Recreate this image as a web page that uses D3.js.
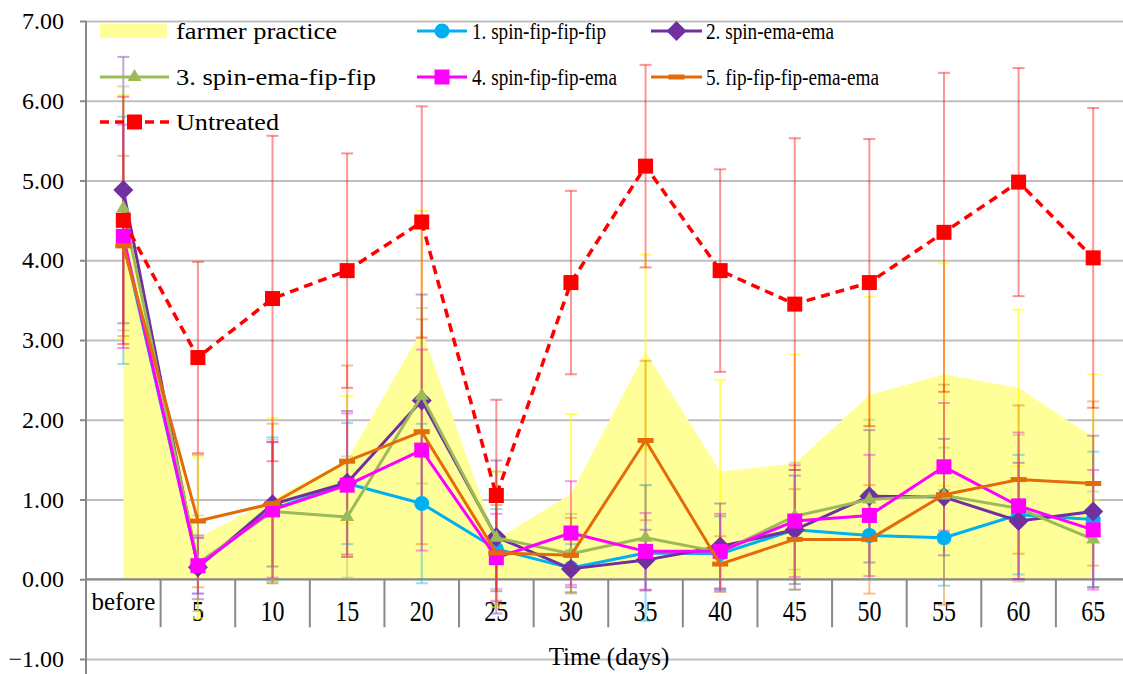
<!DOCTYPE html>
<html><head><meta charset="utf-8">
<script src="https://cdn.jsdelivr.net/npm/d3@7"></script>
<style>
body{margin:0;background:#fff}
svg{display:block}
text{font-family:"Liberation Serif","Times New Roman",serif;fill:#000}
</style>
</head><body>
<svg id="chart" width="1123" height="674"></svg>
<script>
// ---------- data ----------
const categories = ["before","5","10","15","20","25","30","35","40","45","50","55","60","65"];
const yTickValues = [-1,0,1,2,3,4,5,6,7];
const xTitle = "Time (days)";

const farmerPractice    = [4.54,0.52,1.00,1.50,3.12,0.50,1.07,2.85,1.35,1.45,2.31,2.57,2.40,1.78];
const farmerPracticeErr = [1.53,1.01,1.02,0.80,1.50,0.85,1.00,1.22,1.15,1.37,1.23,1.40,0.98,0.79];

const s1Values = [4.25,0.17,0.88,1.20,0.95,0.38,0.14,0.33,0.32,0.62,0.55,0.52,0.81,0.75];
const s1Err    = [1.55,0.35,0.90,0.76,1.00,0.50,0.30,0.85,0.47,0.75,0.55,0.60,0.75,0.85];

const s2Values = [4.88,0.15,0.94,1.21,2.24,0.53,0.13,0.24,0.41,0.62,1.04,1.03,0.73,0.85];
const s2Err    = [1.67,0.40,0.78,0.90,1.33,0.96,0.23,0.38,0.54,0.68,0.83,0.73,0.73,0.95];

const s3Values = [4.65,0.20,0.85,0.78,2.30,0.52,0.32,0.52,0.34,0.79,1.00,1.05,0.89,0.50];
const s3Err    = [1.53,0.60,0.90,0.76,1.10,0.83,0.50,0.66,0.45,0.67,1.00,0.60,0.92,0.60];

const s4Values = [4.30,0.17,0.87,1.18,1.62,0.27,0.58,0.35,0.35,0.73,0.80,1.41,0.92,0.62];
const s4Err    = [1.40,0.35,0.85,0.90,1.26,0.55,0.65,0.48,0.47,0.70,0.76,0.80,0.92,0.75];

const s5Values = [4.18,0.73,0.95,1.48,1.85,0.33,0.30,1.74,0.19,0.50,0.50,1.06,1.25,1.20];
const s5Err    = [1.13,0.83,1.00,1.20,1.41,0.60,0.47,1.00,0.35,0.63,0.68,1.38,0.93,1.03];

const untreatedValues = [4.50,2.78,3.52,3.87,4.48,1.05,3.72,5.18,3.87,3.45,3.72,4.35,4.98,4.03];
const untreatedErr    = [1.55,1.20,2.04,1.47,1.45,1.20,1.15,1.27,1.27,2.08,1.80,2.00,1.43,1.88];

const seriesNames = ["farmer practice","1. spin-fip-fip-fip","2. spin-ema-ema","3. spin-ema-fip-fip",
                     "4. spin-fip-fip-ema","5. fip-fip-fip-ema-ema","Untreated"];

// ---------- styling ----------
const lineSeries = [
  {name:seriesNames[1], values:s1Values, err:s1Err, color:"#00B0F0", marker:"circle"},
  {name:seriesNames[2], values:s2Values, err:s2Err, color:"#7030A0", marker:"diamond"},
  {name:seriesNames[3], values:s3Values, err:s3Err, color:"#9BBB59", marker:"triangle"},
  {name:seriesNames[4], values:s4Values, err:s4Err, color:"#FF00FF", marker:"square"},
  {name:seriesNames[5], values:s5Values, err:s5Err, color:"#E36C09", marker:"dash"},
  {name:seriesNames[6], values:untreatedValues, err:untreatedErr, color:"#FF0000", marker:"square", dashed:true}
];

const W = 1123, H = 674;
const svg = d3.select("#chart");
const x = d3.scaleBand().domain(categories).range([86, 1130.5]).paddingInner(0).paddingOuter(0);
const cx = c => x(c) + x.bandwidth()/2;
const y = d3.scaleLinear().domain([-1,7]).range([659,21]);

// gridlines
svg.append("g").attr("transform","translate(86,0)")
  .call(d3.axisLeft(y).tickValues(yTickValues).tickSize(-(W-86)).tickFormat(""))
  .call(g=>g.select(".domain").remove())
  .call(g=>g.selectAll("line").attr("stroke","#BFBFBF").attr("stroke-width",2));

// farmer practice area
svg.append("path")
  .datum(farmerPractice)
  .attr("fill","#FFFF99")
  .attr("d", d3.area().x((d,i)=>cx(categories[i])).y0(y(0)).y1(d=>y(d)));

// y axis
const yAxis = svg.append("g").attr("transform","translate(86,0)")
  .call(d3.axisLeft(y).tickValues(yTickValues).tickSizeInner(6).tickSizeOuter(0).tickPadding(16).tickFormat(d3.format(".2f")));
yAxis.select(".domain").remove();
yAxis.selectAll("line").attr("stroke","#898989").attr("stroke-width",2);
yAxis.selectAll("text").attr("font-size",24).attr("font-family","Liberation Serif");
svg.append("line").attr("x1",86).attr("x2",86).attr("y1",y(7)).attr("y2",H)
  .attr("stroke","#898989").attr("stroke-width",2);

// x axis
const y0 = y(0);
svg.append("line").attr("x1",86).attr("x2",W).attr("y1",y0).attr("y2",y0)
  .attr("stroke","#898989").attr("stroke-width",2);
svg.append("g").selectAll("line").data(categories.slice(1)).join("line")
  .attr("x1",d=>x(d)).attr("x2",d=>x(d)).attr("y1",y0).attr("y2",y0+48)
  .attr("stroke","#898989").attr("stroke-width",2);
svg.append("g").selectAll("text").data(categories).join("text")
  .attr("text-anchor","middle")
  .attr("font-size",d=>d==="before"?25:24)
  .attr("transform",d=>d==="before" ? `translate(${cx(d)},${y0+31})` : `translate(${cx(d)},${y0+42}) scale(1,1.2)`)
  .text(d=>d);
svg.append("text").attr("x",609).attr("y",665).attr("text-anchor","middle").attr("font-size",25).text(xTitle);

// error bars
function errorBars(values, err, color, opacity){
  const g = svg.append("g").attr("stroke",color).attr("stroke-opacity",opacity).attr("stroke-width",2);
  values.forEach((v,i)=>{
    const xc = cx(categories[i]);
    const top = y(v+err[i]), bot = y(v-err[i]);
    g.append("line").attr("x1",xc).attr("x2",xc).attr("y1",top).attr("y2",bot);
    g.append("line").attr("x1",xc-6).attr("x2",xc+6).attr("y1",top).attr("y2",top);
    g.append("line").attr("x1",xc-6).attr("x2",xc+6).attr("y1",bot).attr("y2",bot);
  });
}
errorBars(farmerPractice, farmerPracticeErr, "#FFFF00", 0.6);
lineSeries.forEach(s=>errorBars(s.values, s.err, s.color, 0.42));

// markers
function drawMarker(g, type, color, xc, yc){
  if(type==="circle") g.append("circle").attr("cx",xc).attr("cy",yc).attr("r",7.5).attr("fill",color);
  else if(type==="diamond") g.append("path").attr("d",d3.symbol(d3.symbolSquare,200)()).attr("transform",`translate(${xc},${yc}) rotate(45)`).attr("fill",color);
  else if(type==="triangle") g.append("path").attr("d",d3.symbol(d3.symbolTriangle,85)()).attr("transform",`translate(${xc},${yc})`).attr("fill",color);
  else if(type==="square") g.append("rect").attr("x",xc-7.5).attr("y",yc-7.5).attr("width",15).attr("height",15).attr("fill",color);
  else if(type==="dash") g.append("rect").attr("x",xc-8).attr("y",yc-2.5).attr("width",16).attr("height",5).attr("fill",color);
}

lineSeries.forEach(s=>{
  const g = svg.append("g");
  g.append("path").datum(s.values)
    .attr("fill","none").attr("stroke",s.color).attr("stroke-width",s.dashed?3.5:3)
    .attr("stroke-dasharray",s.dashed?"9,6":null).attr("stroke-linejoin","round")
    .attr("d", d3.line().x((d,i)=>cx(categories[i])).y(d=>y(d)));
  s.values.forEach((v,i)=>drawMarker(g, s.marker, s.color, cx(categories[i]), y(v)));
});

// legend
const legendCols = [{x1:100,x2:169,tx:176},{x1:417,x2:467,tx:472},{x1:651,x2:702,tx:706}];
const legendRows = [31,77,122];
const legendTextWidths = [161,134,128,200,145,173,103];
const legendItems = [
  {name:seriesNames[0], area:true, color:"#FFFF99"}, ...lineSeries
];
legendItems.forEach((it,k)=>{
  const col = legendCols[k%3], ry = legendRows[Math.floor(k/3)];
  const g = svg.append("g");
  if(it.area){
    g.append("rect").attr("x",col.x1).attr("y",ry-7).attr("width",col.x2-col.x1-2).attr("height",14).attr("fill",it.color);
  } else {
    g.append("line").attr("x1",col.x1).attr("x2",col.x2).attr("y1",ry).attr("y2",ry)
      .attr("stroke",it.color).attr("stroke-width",it.dashed?3.5:3).attr("stroke-dasharray",it.dashed?"9,6":null);
    drawMarker(g, it.marker, it.color, (col.x1+col.x2)/2, ry);
  }
  g.append("text").attr("x",col.tx).attr("y",ry+8).attr("font-size",24)
    .attr("textLength",legendTextWidths[k]).attr("lengthAdjust","spacingAndGlyphs").text(it.name);
});
</script>
</body></html>
